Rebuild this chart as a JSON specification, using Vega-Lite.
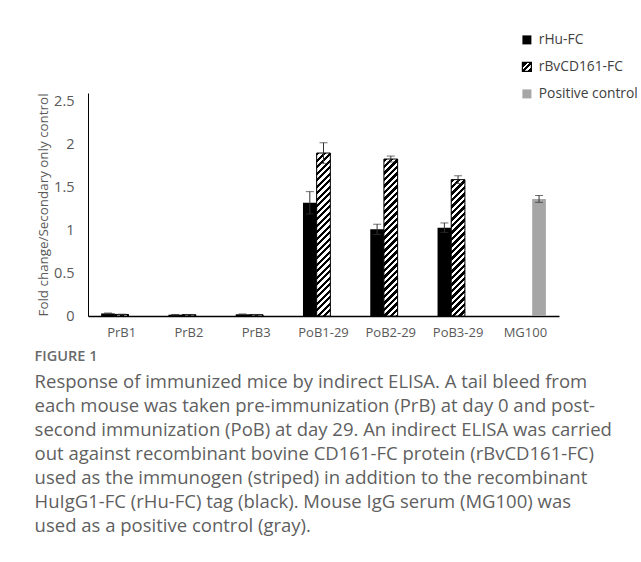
{
  "$schema": "https://vega.github.io/schema/vega-lite/v6.json",
  "width": 471,
  "height": 223,
  "autosize": "none",
  "padding": {"left": 88, "top": 93, "right": 82, "bottom": 246},
  "background": "white",
  "config": {"view": {"stroke": null}, "font": "Open Sans"},
  "params": [
    {"name": "hatchStops", "value": [
      {"offset": 0, "color": "#000"},
      {"offset": 0.016667, "color": "#000"}, {"offset": 0.016667, "color": "#fff"},
      {"offset": 0.033333, "color": "#fff"}, {"offset": 0.033333, "color": "#000"},
      {"offset": 0.05, "color": "#000"}, {"offset": 0.05, "color": "#fff"},
      {"offset": 0.066667, "color": "#fff"}, {"offset": 0.066667, "color": "#000"},
      {"offset": 0.083333, "color": "#000"}, {"offset": 0.083333, "color": "#fff"},
      {"offset": 0.1, "color": "#fff"}, {"offset": 0.1, "color": "#000"},
      {"offset": 0.116667, "color": "#000"}, {"offset": 0.116667, "color": "#fff"},
      {"offset": 0.133333, "color": "#fff"}, {"offset": 0.133333, "color": "#000"},
      {"offset": 0.15, "color": "#000"}, {"offset": 0.15, "color": "#fff"},
      {"offset": 0.166667, "color": "#fff"}, {"offset": 0.166667, "color": "#000"},
      {"offset": 0.183333, "color": "#000"}, {"offset": 0.183333, "color": "#fff"},
      {"offset": 0.2, "color": "#fff"}, {"offset": 0.2, "color": "#000"},
      {"offset": 0.216667, "color": "#000"}, {"offset": 0.216667, "color": "#fff"},
      {"offset": 0.233333, "color": "#fff"}, {"offset": 0.233333, "color": "#000"},
      {"offset": 0.25, "color": "#000"}, {"offset": 0.25, "color": "#fff"},
      {"offset": 0.266667, "color": "#fff"}, {"offset": 0.266667, "color": "#000"},
      {"offset": 0.283333, "color": "#000"}, {"offset": 0.283333, "color": "#fff"},
      {"offset": 0.3, "color": "#fff"}, {"offset": 0.3, "color": "#000"},
      {"offset": 0.316667, "color": "#000"}, {"offset": 0.316667, "color": "#fff"},
      {"offset": 0.333333, "color": "#fff"}, {"offset": 0.333333, "color": "#000"},
      {"offset": 0.35, "color": "#000"}, {"offset": 0.35, "color": "#fff"},
      {"offset": 0.366667, "color": "#fff"}, {"offset": 0.366667, "color": "#000"},
      {"offset": 0.383333, "color": "#000"}, {"offset": 0.383333, "color": "#fff"},
      {"offset": 0.4, "color": "#fff"}, {"offset": 0.4, "color": "#000"},
      {"offset": 0.416667, "color": "#000"}, {"offset": 0.416667, "color": "#fff"},
      {"offset": 0.433333, "color": "#fff"}, {"offset": 0.433333, "color": "#000"},
      {"offset": 0.45, "color": "#000"}, {"offset": 0.45, "color": "#fff"},
      {"offset": 0.466667, "color": "#fff"}, {"offset": 0.466667, "color": "#000"},
      {"offset": 0.483333, "color": "#000"}, {"offset": 0.483333, "color": "#fff"},
      {"offset": 0.5, "color": "#fff"}, {"offset": 0.5, "color": "#000"},
      {"offset": 0.516667, "color": "#000"}, {"offset": 0.516667, "color": "#fff"},
      {"offset": 0.533333, "color": "#fff"}, {"offset": 0.533333, "color": "#000"},
      {"offset": 0.55, "color": "#000"}, {"offset": 0.55, "color": "#fff"},
      {"offset": 0.566667, "color": "#fff"}, {"offset": 0.566667, "color": "#000"},
      {"offset": 0.583333, "color": "#000"}, {"offset": 0.583333, "color": "#fff"},
      {"offset": 0.6, "color": "#fff"}, {"offset": 0.6, "color": "#000"},
      {"offset": 0.616667, "color": "#000"}, {"offset": 0.616667, "color": "#fff"},
      {"offset": 0.633333, "color": "#fff"}, {"offset": 0.633333, "color": "#000"},
      {"offset": 0.65, "color": "#000"}, {"offset": 0.65, "color": "#fff"},
      {"offset": 0.666667, "color": "#fff"}, {"offset": 0.666667, "color": "#000"},
      {"offset": 0.683333, "color": "#000"}, {"offset": 0.683333, "color": "#fff"},
      {"offset": 0.7, "color": "#fff"}, {"offset": 0.7, "color": "#000"},
      {"offset": 0.716667, "color": "#000"}, {"offset": 0.716667, "color": "#fff"},
      {"offset": 0.733333, "color": "#fff"}, {"offset": 0.733333, "color": "#000"},
      {"offset": 0.75, "color": "#000"}, {"offset": 0.75, "color": "#fff"},
      {"offset": 0.766667, "color": "#fff"}, {"offset": 0.766667, "color": "#000"},
      {"offset": 0.783333, "color": "#000"}, {"offset": 0.783333, "color": "#fff"},
      {"offset": 0.8, "color": "#fff"}, {"offset": 0.8, "color": "#000"},
      {"offset": 0.816667, "color": "#000"}, {"offset": 0.816667, "color": "#fff"},
      {"offset": 0.833333, "color": "#fff"}, {"offset": 0.833333, "color": "#000"},
      {"offset": 0.85, "color": "#000"}, {"offset": 0.85, "color": "#fff"},
      {"offset": 0.866667, "color": "#fff"}, {"offset": 0.866667, "color": "#000"},
      {"offset": 0.883333, "color": "#000"}, {"offset": 0.883333, "color": "#fff"},
      {"offset": 0.9, "color": "#fff"}, {"offset": 0.9, "color": "#000"},
      {"offset": 0.916667, "color": "#000"}, {"offset": 0.916667, "color": "#fff"},
      {"offset": 0.933333, "color": "#fff"}, {"offset": 0.933333, "color": "#000"},
      {"offset": 0.95, "color": "#000"}, {"offset": 0.95, "color": "#fff"},
      {"offset": 0.966667, "color": "#fff"}, {"offset": 0.966667, "color": "#000"},
      {"offset": 0.983333, "color": "#000"}, {"offset": 0.983333, "color": "#fff"},
      {"offset": 1, "color": "#fff"}
    ]}
  ],
  "data": {"values": [
    {"group": "PrB1", "series": "rHu-FC", "value": 0.03, "lo": 0.025, "hi": 0.035},
    {"group": "PrB1", "series": "rBvCD161-FC", "value": 0.018, "lo": 0.015, "hi": 0.021},
    {"group": "PrB2", "series": "rHu-FC", "value": 0.015, "lo": 0.012, "hi": 0.018},
    {"group": "PrB2", "series": "rBvCD161-FC", "value": 0.015, "lo": 0.012, "hi": 0.018},
    {"group": "PrB3", "series": "rHu-FC", "value": 0.02, "lo": 0.016, "hi": 0.024},
    {"group": "PrB3", "series": "rBvCD161-FC", "value": 0.015, "lo": 0.012, "hi": 0.018},
    {"group": "PoB1-29", "series": "rHu-FC", "value": 1.32, "lo": 1.19, "hi": 1.45},
    {"group": "PoB1-29", "series": "rBvCD161-FC", "value": 1.9, "lo": 1.78, "hi": 2.02},
    {"group": "PoB2-29", "series": "rHu-FC", "value": 1.01, "lo": 0.95, "hi": 1.07},
    {"group": "PoB2-29", "series": "rBvCD161-FC", "value": 1.83, "lo": 1.795, "hi": 1.865},
    {"group": "PoB3-29", "series": "rHu-FC", "value": 1.03, "lo": 0.975, "hi": 1.085},
    {"group": "PoB3-29", "series": "rBvCD161-FC", "value": 1.59, "lo": 1.545, "hi": 1.635},
    {"group": "MG100", "series": "Positive control", "value": 1.365, "lo": 1.325, "hi": 1.405}
  ]},
  "title": {
    "text": "FIGURE 1",
    "subtitle": [
      "Response of immunized mice by indirect ELISA. A tail bleed from",
      "each mouse was taken pre-immunization (PrB) at day 0 and post-",
      "second immunization (PoB) at day 29. An indirect ELISA was carried",
      "out against recombinant bovine CD161-FC protein (rBvCD161-FC)",
      "used as the immunogen (striped) in addition to the recombinant",
      "HuIgG1-FC (rHu-FC) tag (black). Mouse IgG serum (MG100) was",
      "used as a positive control (gray)."
    ],
    "orient": "bottom",
    "anchor": "start",
    "frame": "bounds",
    "offset": 11,
    "dx": -2,
    "font": "Open Sans",
    "fontSize": 14.5,
    "fontWeight": 600,
    "color": "#6a6a6a",
    "subtitleFont": "Open Sans",
    "subtitleFontSize": 18.5,
    "subtitleColor": "#5f5f5f",
    "subtitleLineHeight": 24.1,
    "subtitlePadding": 8
  },
  "encoding": {
    "x": {
      "field": "group", "type": "nominal",
      "sort": ["PrB1", "PrB2", "PrB3", "PoB1-29", "PoB2-29", "PoB3-29", "MG100"],
      "scale": {"paddingInner": 0.39, "paddingOuter": 0.195},
      "axis": {"title": null, "labelAngle": 0, "ticks": false, "domainColor": "#000", "domainWidth": 1.5,
               "labelFontSize": 13, "labelColor": "#595959", "labelPadding": 10, "labelFont": "Open Sans"}
    },
    "xOffset": {
      "field": "series", "type": "nominal",
      "scale": {"domain": ["rHu-FC", "rBvCD161-FC", "Positive control"], "paddingInner": 0, "paddingOuter": 0}
    }
  },
  "layer": [
    {
      "mark": {"type": "bar"},
      "encoding": {
        "y": {
          "field": "value", "type": "quantitative",
          "title": "Fold change/Secondary only control",
          "scale": {"domain": [0, 2.5]},
          "axis": {"values": [0, 0.5, 1, 1.5, 2, 2.5], "format": "~g",
                   "grid": false, "ticks": false, "domainColor": "#000", "domainWidth": 1,
                   "labelFontSize": 14.5, "labelColor": "#595959", "labelPadding": 14, "labelFont": "Open Sans",
                   "titleFontSize": 13.4, "titleFontWeight": "normal", "titleColor": "#595959", "titlePadding": 3, "titleFont": "Open Sans"}
        },
        "color": {
          "field": "series", "type": "nominal",
          "scale": {"domain": ["rHu-FC", "rBvCD161-FC", "Positive control"],
                    "range": ["#000000", {"expr": "{gradient: 'linear', x1: 0, y1: 0, x2: 1, y2: 1, stops: [{offset: 0, color: '#000'}, {offset: 0.3, color: '#000'}, {offset: 0.3, color: '#fff'}, {offset: 0.45, color: '#fff'}, {offset: 0.45, color: '#000'}, {offset: 0.6, color: '#000'}, {offset: 0.6, color: '#fff'}, {offset: 0.75, color: '#fff'}, {offset: 0.75, color: '#000'}, {offset: 1, color: '#000'}]}"}, "#a6a6a6"]},
          "legend": {
            "orient": "none", "legendX": 432, "legendY": -60, "title": null,
            "symbolType": "square", "symbolSize": 81, "labelFontSize": 13.8, "labelColor": "#404040",
            "labelFont": "Open Sans", "rowPadding": 12, "labelOffset": 5, "symbolStrokeWidth": 0,
            "encode": {"symbols": {"update": {
              "stroke": {"signal": "datum.value === 'rBvCD161-FC' ? '#000' : null"},
              "strokeWidth": {"value": 1.2}
            }}}
          }
        }
      }
    },
    {
      "transform": [{"filter": "datum.series === 'rBvCD161-FC'"}],
      "mark": {
        "type": "bar", "stroke": "#000", "strokeWidth": 1,
        "fill": {"expr": "{gradient: 'linear', x1: 0, y1: 0, x2: bandwidth('xOffset') * 195 / (bandwidth('xOffset') * bandwidth('xOffset') + pow(scale('y', 0) - scale('y', datum.value), 2)), y2: (scale('y', 0) - scale('y', datum.value)) * 195 / (bandwidth('xOffset') * bandwidth('xOffset') + pow(scale('y', 0) - scale('y', datum.value), 2)), stops: hatchStops}"}
      },
      "encoding": {
        "y": {"field": "value", "type": "quantitative", "title": "Fold change/Secondary only control"}
      }
    },
    {
      "mark": {"type": "rule", "color": "#333333", "strokeWidth": 1},
      "encoding": {
        "y": {"field": "lo", "type": "quantitative", "title": "Fold change/Secondary only control"},
        "y2": {"field": "hi"}
      }
    },
    {
      "mark": {"type": "tick", "color": "#333333", "thickness": 1, "size": 8, "orient": "horizontal"},
      "encoding": {"y": {"field": "hi", "type": "quantitative", "title": "Fold change/Secondary only control"}}
    },
    {
      "mark": {"type": "tick", "color": "#333333", "thickness": 1, "size": 8, "orient": "horizontal"},
      "encoding": {"y": {"field": "lo", "type": "quantitative", "title": "Fold change/Secondary only control"}}
    }
  ]
}
